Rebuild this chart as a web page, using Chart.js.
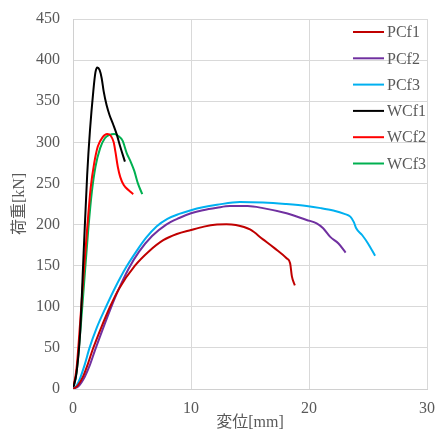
<!DOCTYPE html>
<html>
<head>
<meta charset="utf-8">
<script src="https://cdn.jsdelivr.net/npm/chart.js@4.4.1/dist/chart.umd.min.js"></script>
<style>
  body { margin: 0; background: #fff; }
  canvas { display: block; }
</style>
</head>
<body>
<canvas id="myChart" width="439" height="432"></canvas>
<script>
const seriesNames = ['PCf1', 'PCf2', 'PCf3', 'WCf1', 'WCf2', 'WCf3'];

const pcf1X = [0, 0.4, 0.85, 1.25, 1.67, 2.4, 3.14, 3.9, 5.25, 6.4, 7.65, 8.8, 10.0, 11.1, 12.2, 13.0, 13.8, 15.0, 16.1, 17.1, 18.1, 18.4, 18.55, 18.8];
const pcf1Y = [0, 4, 15, 30, 48, 75, 100, 122, 150, 167, 181, 188.5, 193.4, 197.5, 200, 200.5, 199.5, 194, 182, 171, 159, 153, 137, 126];

const pcf2X = [0, 0.5, 1.0, 1.4, 1.86, 2.5, 3.14, 3.8, 4.7, 5.6, 6.7, 7.9, 9.0, 10.0, 11.0, 12.2, 13.3, 14.8, 16.1, 18.1, 19.8, 20.65, 21.2, 21.8, 22.5, 23.1];
const pcf2Y = [0, 4, 15, 28, 47, 72, 96, 119, 146, 167, 186, 200, 208, 213.7, 217.5, 220.5, 222.5, 222.5, 220, 213.7, 205.6, 201.5, 195.5, 185, 177, 166];

const pcf3X = [0, 0.3, 0.6, 1.0, 1.4, 2.0, 2.8, 3.6, 4.5, 5.4, 6.2, 7.1, 8.0, 9.0, 10.0, 11.0, 12.2, 14.15, 16.1, 18.0, 19.8, 21.0, 22.06, 23.0, 23.5, 23.8, 24.0, 24.5, 25.0, 25.6];
const pcf3Y = [0, 4, 13, 30, 50, 74, 100, 124, 148, 168, 184, 198, 207, 213, 217.5, 221, 224, 227.5, 226.8, 225, 222.6, 220, 217, 213, 209.6, 203, 195.5, 187.3, 177, 162];

const wcf1X = [0, 0.3, 0.6, 0.9, 1.2, 1.44, 1.72, 1.9, 2.06, 2.25, 2.43, 2.6, 2.85, 3.1, 3.4, 3.7, 4.0, 4.4];
const wcf1Y = [0, 20, 68, 165, 260, 315, 362, 385, 391, 388, 378, 362, 345, 333, 322, 310, 295, 276.5];

const wcf2X = [0, 0.3, 0.6, 0.9, 1.2, 1.5, 1.8, 2.1, 2.5, 2.9, 3.2, 3.45, 3.6, 3.8, 4.0, 4.3, 4.7, 5.1];
const wcf2Y = [0, 25, 80, 140, 195, 245, 275, 295, 306, 310, 308, 300, 288, 270, 258, 248, 242, 237];

const wcf3X = [0, 0.3, 0.65, 1.0, 1.3, 1.6, 1.9, 2.3, 2.7, 3.1, 3.5, 3.9, 4.2, 4.55, 4.9, 5.2, 5.5, 5.87];
const wcf3Y = [0, 20, 75, 140, 195, 240, 270, 293, 305, 309, 310, 307, 302, 287, 276, 265, 250, 237];

const xTicks = [0, 10, 20, 30];
const yTicks = [0, 50, 100, 150, 200, 250, 300, 350, 400, 450];

const allX = [pcf1X, pcf2X, pcf3X, wcf1X, wcf2X, wcf3X];
const allY = [pcf1Y, pcf2Y, pcf3Y, wcf1Y, wcf2Y, wcf3Y];
const colors = ['#C00000', '#7030A0', '#00B0F0', '#000000', '#FF0000', '#00B050'];

const fontFamily = "'Liberation Serif', 'Noto Sans CJK JP', serif";
const textColor = '#595959';

const datasets = seriesNames.map((name, i) => ({
    label: name,
    data: allX[i].map((x, j) => ({x: x, y: allY[i][j]})),
    borderColor: colors[i],
    backgroundColor: colors[i],
    borderWidth: 2,
    pointRadius: 0,
    showLine: true,
    cubicInterpolationMode: 'monotone'
}));

// legend drawn inside the plot area, top right
const insideLegend = {
    id: 'insideLegend',
    afterDraw(chart) {
        const ctx = chart.ctx;
        const area = chart.chartArea;
        const x0 = area.right - 74;
        const y0 = area.top + 13;
        ctx.save();
        ctx.font = '16px ' + fontFamily;
        ctx.textBaseline = 'middle';
        ctx.textAlign = 'left';
        chart.data.datasets.forEach((ds, i) => {
            const y = y0 + i * 26.3;
            ctx.strokeStyle = ds.borderColor;
            ctx.lineWidth = 2;
            ctx.beginPath();
            ctx.moveTo(x0, y);
            ctx.lineTo(x0 + 31, y);
            ctx.stroke();
            ctx.fillStyle = textColor;
            ctx.fillText(ds.label, x0 + 34, y + 1);
        });
        ctx.restore();
    }
};

const ctx = document.getElementById('myChart').getContext('2d');
const config = {
    type: 'scatter',
    data: {datasets: datasets},
    options: {
        responsive: false,
        animation: false,
        layout: {padding: {top: 19, right: 12, left: 0, bottom: 0}},
        plugins: {
            legend: {display: false},
            tooltip: {enabled: false}
        },
        scales: {
            x: {
                type: 'linear',
                min: 0,
                max: 30,
                afterBuildTicks: (scale) => { scale.ticks = xTicks.map(v => ({value: v})); },
                afterFit: (scale) => {
                    scale.height = 43;
                    scale.paddingLeft = 0;
                    scale.paddingRight = 0;
                },
                grid: {color: '#D9D9D9', drawTicks: false},
                border: {color: '#D0D0D0'},
                ticks: {color: textColor, padding: 10, font: {family: fontFamily, size: 16}},
                title: {
                    display: true,
                    text: '変位[mm]',
                    color: textColor,
                    padding: {top: 0, bottom: 0},
                    font: {family: fontFamily, size: 16}
                }
            },
            y: {
                type: 'linear',
                min: 0,
                max: 450,
                afterBuildTicks: (scale) => { scale.ticks = yTicks.map(v => ({value: v})); },
                afterFit: (scale) => {
                    scale.width = 73;
                    scale.paddingTop = 0;
                    scale.paddingBottom = 0;
                },
                grid: {color: '#D9D9D9', drawTicks: false},
                border: {color: '#D0D0D0'},
                ticks: {color: textColor, padding: 13, font: {family: fontFamily, size: 16}},
                title: {
                    display: true,
                    text: '荷重[kN]',
                    color: textColor,
                    padding: {top: 10, bottom: 0},
                    font: {family: fontFamily, size: 16}
                }
            }
        }
    },
    plugins: [insideLegend]
};
const myChart = new Chart(ctx, config);
</script>
</body>
</html>
